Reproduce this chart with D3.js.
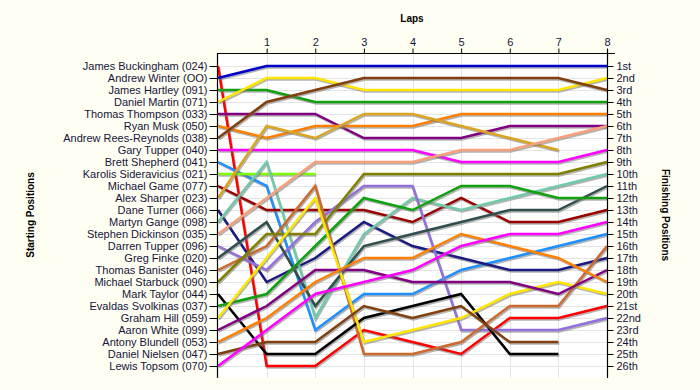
<!DOCTYPE html>
<html>
<head>
<meta charset="utf-8">
<script src="https://cdn.jsdelivr.net/npm/d3@7"></script>
<style>
  body { margin: 0; background: #fffef2; }
  text { font-family: "Liberation Sans", Arial, sans-serif; }
</style>
</head>
<body>
<div id="chart"></div>
<script>
// starting grid order
var drivers = [
  "James Buckingham (024)", "Andrew Winter (OO)", "James Hartley (091)", "Daniel Martin (071)",
  "Thomas Thompson (033)", "Ryan Musk (050)", "Andrew Rees-Reynolds (038)", "Gary Tupper (040)",
  "Brett Shepherd (041)", "Karolis Sideravicius (021)", "Michael Game (077)", "Alex Sharper (023)",
  "Dane Turner (066)", "Martyn Gange (098)", "Stephen Dickinson (035)", "Darren Tupper (096)",
  "Greg Finke (020)", "Thomas Banister (046)", "Michael Starbuck (090)", "Mark Taylor (044)",
  "Evaldas Svolkinas (037)", "Graham Hill (059)", "Aaron White (099)", "Antony Blundell (053)",
  "Daniel Nielsen (047)", "Lewis Topsom (070)"
];

var colors = [
  "#ff0000", "#0000cc", "#10a010", "#ffe600", "#800080", "#ff8000", "#804010", "#ff00ff",
  "#1e90ff", "#7cfc00", "#990000", "#daa520", "#1a1a80", "#6fcaa8", "#f8a07c", "#9370db",
  "#2f4f4f", "#cd6a2d", "#808000", "#000000", "#10a010", "#ffe600", "#800080", "#ff8000",
  "#804010", "#ff00ff"
];

// position at lap 0..8 (null = not running)
var positions = [
  [1, 26, 26, 23, 24, 25, 22, 22, 21],
  [2, 1, 1, 1, 1, 1, 1, 1, 1],
  [3, 3, 4, 4, 4, 4, 4, 4, 4],
  [4, 2, 2, 3, 3, 3, 3, 3, 2],
  [5, 5, 5, 7, 7, 7, 6, 6, 6],
  [6, 7, 6, 6, 6, 5, 5, 5, 5],
  [7, 4, 3, 2, 2, 2, 2, 2, 3],
  [8, 8, 8, 8, 8, 9, 9, 9, 8],
  [9, 11, 23, 20, 20, 18, 17, 16, 15],
  [10, 10, 10, null, null, null, null, null, null],
  [11, 13, 13, 13, 14, 12, 14, 14, 13],
  [12, 6, 7, 5, 5, 6, 7, 8, null],
  [13, 19, 17, 14, 16, 17, 18, 18, 17],
  [14, 9, 22, 15, 12, 13, 12, 11, 10],
  [15, 12, 9, 9, 9, 8, 8, 7, 6],
  [16, 18, 14, 11, 11, 23, 23, 23, 22],
  [17, 14, 21, 16, 15, 14, 13, 13, 11],
  [18, 16, 11, 25, 25, 24, 21, 21, 16],
  [19, 15, 15, 10, 10, 10, 10, 10, 9],
  [20, 25, 25, 22, 21, 20, 25, 25, null],
  [21, 20, 16, 12, 13, 11, 11, 12, 12],
  [22, 17, 12, 24, 23, 22, 20, 19, 20],
  [23, 21, 18, 18, 19, 19, 19, 20, 18],
  [24, 22, 19, 17, 17, 15, 16, 17, 19],
  [25, 24, 24, 21, 22, 21, 24, 24, null],
  [26, 23, 20, 19, 18, 16, 15, 15, 14]
];

var laps = [1, 2, 3, 4, 5, 6, 7, 8];

var finishLabels = [
  "1st", "2nd", "3rd", "4th", "5th", "6th", "7th", "8th", "9th", "10th", "11th", "12th", "13th",
  "14th", "15th", "16th", "17th", "18th", "19th", "20th", "21st", "22nd", "23rd", "24th", "25th", "26th"
];

var width = 700;
var height = 390;

const svg = d3
  .select("#chart")
  .append("svg")
  .attr("width", width)
  .attr("height", height);

svg.append("rect")
  .attr("width", width)
  .attr("height", height)
  .attr("fill", "#fffef2");

const x = d3.scaleLinear().domain([0, 8]).range([218, 607]);
const y = d3.scaleLinear().domain([0, 27]).range([54, 378]);

// plot background
svg.append("rect")
  .attr("x", x(0))
  .attr("y", 53)
  .attr("width", x(8) - x(0))
  .attr("height", y(27) - 53)
  .attr("fill", "#ffffff");

// grid
const grid = svg.append("g");
grid.selectAll(".hgrid")
  .data(d3.range(1, 27))
  .enter()
  .append("line")
  .attr("x1", x(0))
  .attr("x2", x(8))
  .attr("y1", d => Math.round(y(d)) + 0.5)
  .attr("y2", d => Math.round(y(d)) + 0.5)
  .attr("stroke", "#e4e4e4");
grid.selectAll(".vgrid")
  .data(laps)
  .enter()
  .append("line")
  .attr("x1", d => Math.round(x(d)) + 0.5)
  .attr("x2", d => Math.round(x(d)) + 0.5)
  .attr("y1", 53)
  .attr("y2", y(27))
  .attr("stroke", "#e4e4e4");

// lines
const line = d3.line()
  .defined(d => d != null)
  .x((d, i) => x(i))
  .y(d => y(d));

const lines = svg.append("g");
positions.forEach(function (pos, i) {
  lines.append("path")
    .attr("d", line(pos))
    .attr("transform", "translate(1,1.5)")
    .attr("fill", "none")
    .attr("stroke", "#777")
    .attr("stroke-opacity", 0.55)
    .attr("stroke-width", 2.5);
  lines.append("path")
    .attr("d", line(pos))
    .attr("fill", "none")
    .attr("stroke", colors[i])
    .attr("stroke-width", 2.5);
});

// axes
const leftAxis = d3.axisLeft(y)
  .tickValues(d3.range(1, 27))
  .tickFormat(d => drivers[d - 1])
  .tickSizeOuter(0)
  .tickSize(8);
const gl = svg.append("g")
  .attr("transform", "translate(" + (x(0) - 0.5) + ",0)")
  .call(leftAxis);

const rightAxis = d3.axisRight(y)
  .tickValues(d3.range(1, 27))
  .tickFormat(d => finishLabels[d - 1])
  .tickSizeOuter(0)
  .tickSize(6);
const gr = svg.append("g")
  .attr("transform", "translate(" + (x(8) + 0.5) + ",0)")
  .call(rightAxis);

const topAxis = d3.axisTop(x)
  .tickValues(laps)
  .tickSizeOuter(0)
  .tickSize(5)
  .tickPadding(3);
const gt = svg.append("g")
  .attr("transform", "translate(0,53.5)")
  .call(topAxis);

[gl, gr, gt].forEach(function (g) {
  g.select(".domain").attr("stroke", "#000").attr("stroke-width", 1.2);
  g.selectAll(".tick line").attr("stroke", "#000");
  g.selectAll(".tick text")
    .attr("fill", "#14143c")
    .style("font-size", "11px")
    .style("font-family", "'Liberation Sans', Arial, sans-serif");
});
gl.select(".domain").attr("d", "M0,53V" + y(27));
gr.select(".domain").attr("d", "M0,49V" + y(27));
gt.select(".domain").attr("d", "M" + (x(0) - 1) + ",0H" + (x(8) + 8));
gl.selectAll(".tick text").attr("x", -10);
gr.selectAll(".tick text").attr("x", 9);

// titles
svg.append("text")
  .attr("x", 412)
  .attr("y", 22)
  .attr("text-anchor", "middle")
  .style("font-size", "10px")
  .style("font-weight", "bold")
  .text("Laps");

svg.append("text")
  .attr("transform", "translate(34,215) rotate(-90)")
  .attr("text-anchor", "middle")
  .style("font-size", "10px")
  .style("font-weight", "bold")
  .text("Starting Positions");

svg.append("text")
  .attr("transform", "translate(662,215) rotate(90)")
  .attr("text-anchor", "middle")
  .style("font-size", "10px")
  .style("font-weight", "bold")
  .text("Finishing Positions");
</script>
</body>
</html>
